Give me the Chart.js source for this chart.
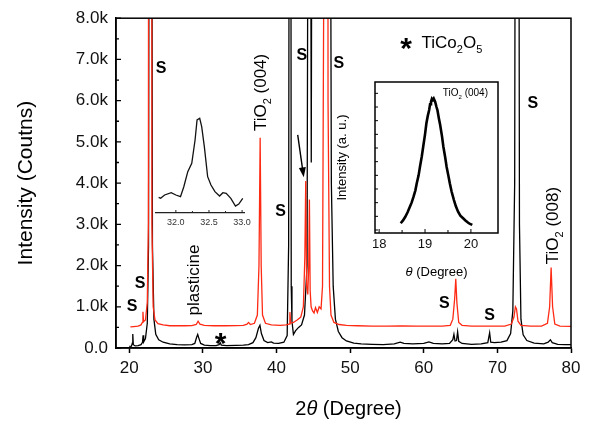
<!DOCTYPE html>
<html>
<head>
<meta charset="utf-8">
<script src="https://cdn.jsdelivr.net/npm/chart.js@4.4.0/dist/chart.umd.min.js"></script>
<style>
  html, body { margin: 0; padding: 0; background: #fff; }
  #wrap { position: relative; width: 589px; height: 423px; }
  canvas { position: absolute; }
  #main { left: 0; top: 0; }
  #insetA { left: 150px; top: 100px; }
  #insetB { left: 330px; top: 70px; }
</style>
</head>
<body>
<div id="wrap">
  <canvas id="main" width="589" height="423"></canvas>
  <canvas id="insetA" width="105" height="135"></canvas>
  <canvas id="insetB" width="180" height="210"></canvas>
</div>
<script>
// ---- main pattern: black trace (2theta, counts)
const blackTheta = [20.0, 20.3, 20.42, 20.48, 20.55, 20.8, 21.2, 21.6, 21.8, 21.88, 21.96, 22.2, 22.45, 22.62, 22.75, 23.0, 23.15, 23.35, 23.6, 24.0,
  24.6, 25.5, 26.5, 27.5, 28.5, 28.9, 29.15, 29.3, 29.45, 29.7, 30.2, 31.0, 31.8, 32.2, 32.35, 32.5, 33.2, 34.5, 35.5, 36.2,
  36.8, 37.2, 37.55, 37.75, 37.95, 38.3, 38.8, 39.3, 39.6, 40.3, 41.0, 41.45, 41.65, 41.78, 41.92, 42.0, 42.1, 42.3, 42.6, 43.0,
  43.4, 43.8, 44.15, 44.38, 44.55, 44.72, 44.9, 47.2, 47.45, 47.7, 48.0, 48.4, 48.9, 49.5, 50.5, 51.5, 53.0, 54.5, 56.0, 56.8,
  57.3, 58.5, 60.0, 60.7, 61.3, 62.5, 63.5, 63.95, 64.1, 64.25, 64.45, 64.6, 64.75, 65.2, 66.5, 67.8, 68.7, 68.95, 69.1, 69.6,
  70.5, 71.3, 71.8, 72.1, 72.35, 72.5, 72.85, 73.0, 73.2, 73.5, 74.0, 75.0, 76.3, 76.9, 77.2, 77.45, 78.2, 79.2, 80.0];
const blackCounts = [40, 45, 120, 340, 80, 50, 60, 80, 140, 310, 150, 230, 600, 2500, 20000, 20000, 2500, 700, 330, 200,
  140, 100, 80, 75, 80, 110, 260, 330, 240, 110, 70, 60, 60, 80, 130, 70, 60, 65, 70, 80,
  130, 250, 480, 550, 350, 180, 130, 150, 120, 110, 140, 300, 2500, 20000, 20000, 1500, 650, 330, 420, 500,
  560, 800, 2000, 20000, 20000, 4500, 20000, 20000, 4000, 1500, 700, 400, 250, 170, 120, 100, 90, 80, 100, 140,
  110, 100, 110, 150, 110, 100, 110, 200, 330, 170, 180, 390, 160, 110, 90, 100, 130, 370, 140, 130,
  140, 180, 350, 900, 4000, 20000, 20000, 3000, 700, 320, 180, 120, 100, 140, 200, 130, 90, 80, 80];

// ---- main pattern: red trace (2theta, counts)
const redTheta = [20.15, 20.6, 21.2, 21.6, 21.78, 21.86, 21.94, 22.2, 22.45, 22.6, 22.72, 22.95, 23.08, 23.25, 23.5, 23.9, 24.6, 25.5, 26.5, 27.5,
  28.5, 29.1, 29.35, 29.6, 30.2, 31.5, 33.0, 34.5, 35.5, 36.0, 36.2, 36.45, 37.0, 37.4, 37.62, 37.78, 37.92, 38.1, 38.5, 39.3,
  40.5, 41.3, 41.7, 41.82, 41.92, 42.3, 42.8, 43.3, 43.65, 43.85, 43.97, 44.1, 44.25, 44.38, 44.47, 44.57, 44.7, 44.9, 45.1, 45.3,
  45.55, 45.8, 46.05, 46.25, 46.4, 46.5, 46.85, 47.0, 47.2, 47.4, 47.8, 48.5, 49.5, 51.0, 53.0, 55.0, 57.0, 59.0, 61.0, 62.5,
  63.6, 63.95, 64.2, 64.35, 64.5, 64.75, 65.2, 66.5, 68.0, 69.5, 71.0, 71.9, 72.25, 72.45, 72.6, 72.8, 73.2, 74.5, 76.0, 76.8,
  77.1, 77.3, 77.5, 77.8, 78.5, 80.0];
const redCounts = [510, 520, 530, 560, 620, 880, 640, 680, 1100, 3000, 50000, 50000, 3000, 1000, 680, 590, 560, 540, 545, 540,
  545, 570, 650, 580, 550, 540, 540, 545, 550, 580, 620, 570, 600, 800, 2000, 5100, 2000, 800, 600, 560,
  550, 560, 580, 870, 600, 620, 680, 750, 1000, 2200, 4050, 1500, 1300, 2000, 3600, 1400, 1000, 900, 850, 980,
  860, 1000, 950, 1500, 8000, 50000, 50000, 6000, 1500, 800, 620, 570, 550, 540, 530, 530, 535, 530, 530, 530,
  550, 700, 1200, 1680, 1100, 620, 550, 530, 530, 530, 530, 580, 750, 1000, 950, 650, 550, 530, 530, 600,
  1000, 1950, 1000, 580, 530, 525];

const xTicks = [20, 30, 40, 50, 60, 70, 80];
const yTicks = [0, 1000, 2000, 3000, 4000, 5000, 6000, 7000, 8000];
const yTickLabels = ['0.0', '1.0k', '2.0k', '3.0k', '4.0k', '5.0k', '6.0k', '7.0k', '8.0k'];

// ---- left inset: 31.7-33 deg detail of the black trace
const zoomTheta = [31.74, 31.77, 31.83, 31.93, 32.0, 32.07, 32.12, 32.18, 32.24, 32.29, 32.32, 32.36,
  32.39, 32.43, 32.48, 32.53, 32.59, 32.66, 32.71, 32.76, 32.83, 32.9, 32.95, 33.01];
const zoomCounts = [15.7, 14.7, 18, 20.3, 18, 16.3, 26.3, 41.3, 49.7, 73, 93, 94.7,
  86.3, 66.3, 36.3, 28, 21.3, 17, 20.3, 19.7, 14.7, 7, 9, 14.7];
const zoomTicks = [32.0, 32.5, 33.0];
const zoomTickLabels = ['32.0', '32.5', '33.0'];

// ---- right inset: TiO2 (004) theta scan
const rockTheta = [18.47, 18.52, 18.57, 18.62, 18.67, 18.71, 18.75, 18.79, 18.82, 18.86, 18.89, 18.93, 18.96, 19.0, 19.03,
  19.06, 19.09, 19.11, 19.13, 19.15, 19.17, 19.19, 19.22, 19.25, 19.27, 19.3, 19.33, 19.37, 19.4, 19.44,
  19.47, 19.51, 19.54, 19.58, 19.63, 19.67, 19.72, 19.77, 19.83, 19.88, 19.94, 19.98, 20.03];
const rockInt = [0.49, 0.7, 0.97, 1.3, 1.7, 2.02, 2.44, 2.9, 3.42, 4.0, 4.63, 5.4, 6.09, 7.0, 7.81,
  8.35, 8.78, 9.2, 9.39, 9.6, 9.51, 9.62, 9.39, 9.0, 8.78, 8.2, 7.68, 6.85, 6.09, 5.3,
  4.63, 3.95, 3.42, 2.8, 2.19, 1.75, 1.34, 1.05, 0.86, 0.7, 0.53, 0.45, 0.37];
const rockTicks = [18, 19, 20];

const FONT = '"Liberation Sans", Arial, Helvetica, sans-serif';
const RED = '#ff2a14';

const toXY = (xs, ys) => xs.map((x, i) => ({ x, y: ys[i] }));

// draws text made of parts, some subscript or italic; y is the baseline
function drawRich(ctx, parts, x, y, size, align) {
  const fontOf = p => (p.it ? 'italic ' : '') + (p.bold ? 'bold ' : '') + (p.sub ? Math.round(size * 0.62) : size) + 'px ' + FONT;
  const widths = parts.map(p => { ctx.font = fontOf(p); return ctx.measureText(p.t).width; });
  const total = widths.reduce((a, b) => a + b, 0);
  let cx = align === 'center' ? x - total / 2 : (align === 'right' ? x - total : x);
  ctx.textAlign = 'left';
  ctx.textBaseline = 'alphabetic';
  parts.forEach((p, i) => {
    ctx.font = fontOf(p);
    ctx.fillText(p.t, cx, y + (p.sub ? size * 0.28 : 0));
    cx += widths[i];
  });
}

function rotatedRich(ctx, parts, x, y, size) {
  ctx.save();
  ctx.translate(x, y);
  ctx.rotate(-Math.PI / 2);
  drawRich(ctx, parts, 0, size * 0.36, size, 'center');
  ctx.restore();
}

// annotations of the main pattern
const mainDecor = {
  id: 'mainDecor',
  afterDraw(chart) {
    const { ctx, chartArea: a, scales: { x, y } } = chart;
    const px = v => x.getPixelForValue(v);
    const py = v => y.getPixelForValue(v);
    ctx.save();
    ctx.strokeStyle = '#000';
    ctx.fillStyle = '#000';
    ctx.lineWidth = 1.5;
    ctx.strokeRect(a.left, a.top, a.right - a.left, a.bottom - a.top);

    // inward y ticks, minor half way
    ctx.lineWidth = 1.3;
    yTicks.forEach((v, i) => {
      ctx.beginPath();
      ctx.moveTo(a.left, py(v)); ctx.lineTo(a.left + 5, py(v));
      if (i < yTicks.length - 1) {
        const m = (v + yTicks[i + 1]) / 2;
        ctx.moveTo(a.left, py(m)); ctx.lineTo(a.left + 3, py(m));
      }
      ctx.stroke();
    });

    // substrate peak marks
    ctx.font = 'bold 16px ' + FONT;
    ctx.textAlign = 'center';
    ctx.textBaseline = 'middle';
    [[20.4, 1000], [21.46, 1560], [24.32, 6780], [40.56, 3300], [43.43, 7090],
     [48.47, 6900], [62.79, 1080], [68.93, 790], [74.8, 5920]].forEach(([t, c]) => {
      ctx.fillText('S', px(t), py(c));
    });

    // TiCo2O5 marker and legend
    ctx.font = 'bold 30px ' + FONT;
    ctx.fillText('*', px(32.4), py(263) + 8);
    ctx.fillText('*', px(57.6), py(7425) + 8);
    drawRich(ctx, [{ t: 'TiCo' }, { t: '2', sub: 1 }, { t: 'O' }, { t: '5', sub: 1 }], px(59.7), py(7425) + 6, 17, 'left');

    // rotated labels
    rotatedRich(ctx, [{ t: 'plasticine' }], px(28.58), py(1650), 17);
    rotatedRich(ctx, [{ t: 'TiO' }, { t: '2', sub: 1 }, { t: ' (004)' }], px(37.8), py(6200), 17);
    rotatedRich(ctx, [{ t: 'TiO' }, { t: '2', sub: 1 }, { t: ' (008)' }], px(77.4), py(2970), 17);

    // arrow towards the red shoulder
    const x0 = px(42.88), y0 = py(5170), x1 = px(43.7), y1 = py(4140);
    const ang = Math.atan2(y1 - y0, x1 - x0);
    ctx.lineWidth = 1.4;
    ctx.beginPath(); ctx.moveTo(x0, y0); ctx.lineTo(x1 - 6 * Math.cos(ang), y1 - 6 * Math.sin(ang)); ctx.stroke();
    ctx.beginPath();
    ctx.moveTo(x1, y1);
    ctx.lineTo(x1 - 10 * Math.cos(ang) + 3.5 * Math.sin(ang), y1 - 10 * Math.sin(ang) - 3.5 * Math.cos(ang));
    ctx.lineTo(x1 - 10 * Math.cos(ang) - 3.5 * Math.sin(ang), y1 - 10 * Math.sin(ang) + 3.5 * Math.cos(ang));
    ctx.closePath(); ctx.fill();

    // x axis title with italic theta
    drawRich(ctx, [{ t: '2' }, { t: '\u03b8', it: 1 }, { t: ' (Degree)' }], (a.left + a.right) / 2 + 5, a.bottom + 67, 20, 'center');
    ctx.restore();
  }
};

new Chart(document.getElementById('main'), {
  type: 'line',
  data: {
    datasets: [
      { label: 'red', data: toXY(redTheta, redCounts), borderColor: RED, borderWidth: 1.3, pointRadius: 0, tension: 0, fill: false },
      { label: 'black', data: toXY(blackTheta, blackCounts), borderColor: '#000', borderWidth: 1.3, pointRadius: 0, tension: 0, fill: false }
    ]
  },
  options: {
    responsive: false,
    animation: false,
    events: [],
    layout: { padding: { top: 14, right: 18, left: 0, bottom: 0 } },
    plugins: { legend: { display: false }, tooltip: { enabled: false } },
    scales: {
      x: {
        type: 'linear', min: 18.2, max: 80,
        afterBuildTicks: s => { s.ticks = xTicks.map(v => ({ value: v })); },
        afterFit: s => { s.height = 75; },
        grid: { drawOnChartArea: false, drawTicks: true, tickLength: 5, tickWidth: 1.5, tickColor: '#000' },
        border: { color: '#000', width: 1.5 },
        ticks: { font: { size: 17, family: FONT }, color: '#111', padding: 5, maxRotation: 0, autoSkip: false }
      },
      y: {
        type: 'linear', min: 0, max: 8000,
        afterBuildTicks: s => { s.ticks = yTicks.map(v => ({ value: v })); },
        afterFit: s => { s.width = 116; },
        grid: { display: false, drawTicks: false },
        border: { color: '#000', width: 1.5 },
        ticks: { font: { size: 17, family: FONT }, color: '#111', padding: 8, callback: v => yTickLabels[yTicks.indexOf(v)] },
        title: { display: true, text: 'Intensity (Coutns)', color: '#000', font: { size: 21, family: FONT }, padding: { top: 14 } }
      }
    }
  },
  plugins: [mainDecor]
});

// left inset: inward ticks on the bottom axis
const insetADecor = {
  id: 'insetADecor',
  afterDraw(chart) {
    const { ctx, chartArea: a, scales: { x } } = chart;
    ctx.save();
    ctx.strokeStyle = '#222';
    ctx.lineWidth = 1;
    zoomTicks.forEach((v, i) => {
      ctx.beginPath();
      ctx.moveTo(x.getPixelForValue(v), a.bottom); ctx.lineTo(x.getPixelForValue(v), a.bottom - 3);
      if (i < zoomTicks.length - 1) {
        const m = (v + zoomTicks[i + 1]) / 2;
        ctx.moveTo(x.getPixelForValue(m), a.bottom); ctx.lineTo(x.getPixelForValue(m), a.bottom - 2);
      }
      ctx.stroke();
    });
    ctx.restore();
  }
};

new Chart(document.getElementById('insetA'), {
  type: 'line',
  data: { datasets: [{ data: toXY(zoomTheta, zoomCounts), borderColor: '#111', borderWidth: 1.3, pointRadius: 0, tension: 0, fill: false }] },
  options: {
    responsive: false,
    animation: false,
    events: [],
    layout: { padding: { top: 5, right: 7, left: 6, bottom: 0 } },
    plugins: { legend: { display: false }, tooltip: { enabled: false } },
    scales: {
      x: {
        type: 'linear', min: 31.7, max: 33.03,
        afterBuildTicks: s => { s.ticks = zoomTicks.map(v => ({ value: v })); },
        afterFit: s => { s.height = 22; },
        grid: { display: false, drawTicks: false },
        border: { color: '#222', width: 1.2 },
        ticks: { font: { size: 9, family: FONT }, color: '#333', padding: 4, maxRotation: 0, autoSkip: false,
          callback: v => zoomTickLabels[zoomTicks.indexOf(v)] }
      },
      y: { display: false, min: 0, max: 108 }
    }
  },
  plugins: [insetADecor]
});

// right inset: box, inward ticks, texts
const insetBDecor = {
  id: 'insetBDecor',
  afterDraw(chart) {
    const { ctx, chartArea: a, scales: { x, y } } = chart;
    ctx.save();
    ctx.strokeStyle = '#000';
    ctx.fillStyle = '#000';
    ctx.lineWidth = 1.5;
    ctx.strokeRect(a.left, a.top, a.right - a.left, a.bottom - a.top);
    ctx.lineWidth = 1;
    ctx.beginPath();
    rockTicks.forEach((v, i) => {
      ctx.moveTo(x.getPixelForValue(v), a.bottom); ctx.lineTo(x.getPixelForValue(v), a.bottom - 4);
      if (i < rockTicks.length - 1) {
        const m = (v + rockTicks[i + 1]) / 2;
        ctx.moveTo(x.getPixelForValue(m), a.bottom); ctx.lineTo(x.getPixelForValue(m), a.bottom - 3);
      }
    });
    y.ticks.forEach(t => {
      ctx.moveTo(a.left, y.getPixelForValue(t.value)); ctx.lineTo(a.left + 3, y.getPixelForValue(t.value));
    });
    ctx.stroke();
    drawRich(ctx, [{ t: 'TiO' }, { t: '2', sub: 1 }, { t: ' (004)' }], a.right - 10, a.top + 14, 10, 'right');
    drawRich(ctx, [{ t: '\u03b8', it: 1 }, { t: ' (Degree)' }], (a.left + a.right) / 2, a.bottom + 43, 13, 'center');
    ctx.restore();
  }
};

new Chart(document.getElementById('insetB'), {
  type: 'line',
  data: { datasets: [{ data: toXY(rockTheta, rockInt), borderColor: '#000', borderWidth: 2.6, pointRadius: 0, tension: 0, fill: false }] },
  options: {
    responsive: false,
    animation: false,
    events: [],
    layout: { padding: { top: 12, right: 12, left: 0, bottom: 0 } },
    plugins: { legend: { display: false }, tooltip: { enabled: false } },
    scales: {
      x: {
        type: 'linear', min: 17.91, max: 20.59,
        afterBuildTicks: s => { s.ticks = rockTicks.map(v => ({ value: v })); },
        afterFit: s => { s.height = 47; },
        grid: { display: false, drawTicks: false },
        border: { display: false },
        ticks: { font: { size: 13, family: FONT }, color: '#111', padding: 4, maxRotation: 0, autoSkip: false }
      },
      y: {
        type: 'linear', min: -0.22, max: 10.83,
        afterFit: s => { s.width = 45; },
        grid: { display: false, drawTicks: false },
        border: { display: false },
        ticks: { display: false, stepSize: 1, includeBounds: false },
        title: { display: true, text: 'Intensity (a. u.)', color: '#000', font: { size: 13, family: FONT }, padding: { top: 5 } }
      }
    }
  },
  plugins: [insetBDecor]
});
</script>
</body>
</html>
